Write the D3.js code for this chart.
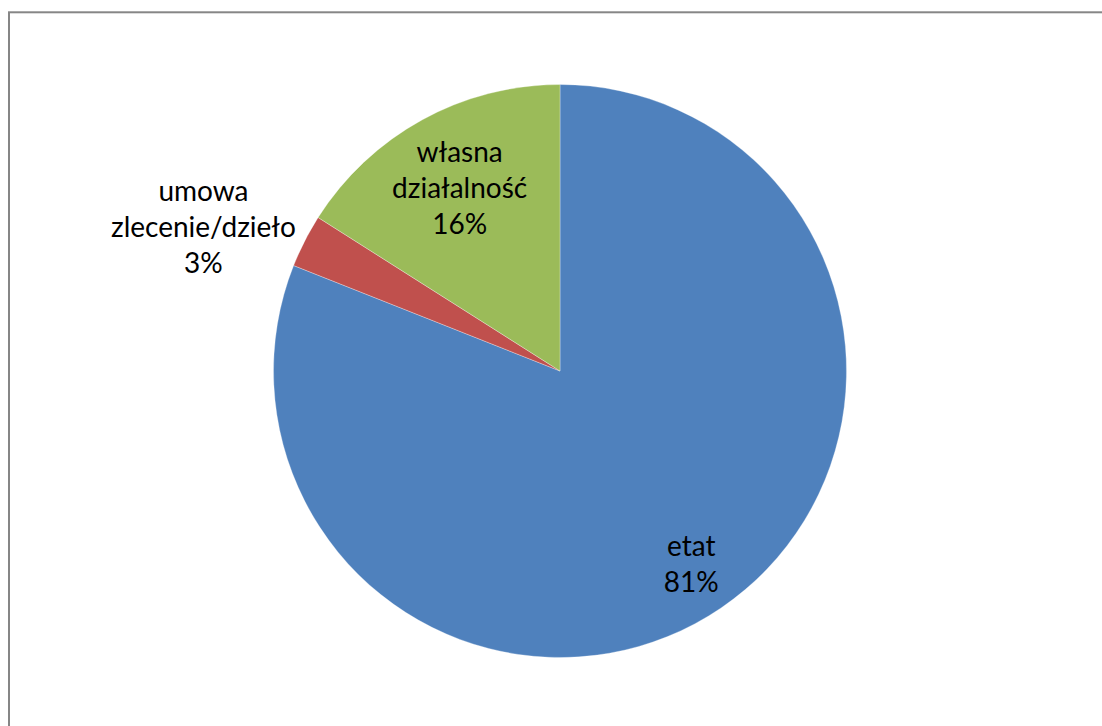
<!DOCTYPE html>
<html>
<head>
<meta charset="utf-8">
<script src="https://cdn.jsdelivr.net/npm/d3@7"></script>
<style>
    body { margin: 0; background: #fff; }
    svg text { font-family: Lato, 'Open Sans', sans-serif; font-size: 28px; fill: #000; }
</style>
</head>
<body>
<div class="chart"></div>
<script>
(function () {
    'use strict';

    const categories = ['etat', 'umowa zlecenie/dzieło', 'własna działalność'];
    const labelLines = [['etat'], ['umowa', 'zlecenie/dzieło'], ['własna', 'działalność']];
    const shares = [81, 3, 16];
    const colors = ['#4f81bd', '#c0504d', '#9bbb59'];

    const width = 1102;
    const height = 726;
    const center = { x: 560, y: 371 };
    const radius = 286.5;
    const lineHeight = 36;

    // label placement: inside labels by radius factor, small slices go outside
    const labelRadius = [0.815, null, 0.727];

    const svg = d3.select('.chart').append('svg')
        .attr('width', width)
        .attr('height', height);

    // chart frame (right and bottom edges fall outside the picture)
    svg.append('rect')
        .attr('x', 9).attr('y', 12.3)
        .attr('width', width + 20).attr('height', height + 20)
        .attr('fill', 'none')
        .attr('stroke', '#868686')
        .attr('stroke-width', 2);

    const pie = d3.pie().sort(null).value(function (d) { return d; });
    const arcs = pie(shares);
    const arc = d3.arc().innerRadius(0).outerRadius(radius);

    const g = svg.append('g').attr('transform', 'translate(' + center.x + ',' + center.y + ')');

    g.selectAll('path').data(arcs).enter().append('path')
        .attr('d', arc)
        .attr('fill', function (d, i) { return colors[i]; })
        .attr('stroke', '#ffffff')
        .attr('stroke-opacity', 0.5)
        .attr('stroke-width', 0.6);

    const labels = g.selectAll('.label').data(arcs).enter().append('text')
        .attr('class', 'label')
        .attr('text-anchor', 'middle');

    labels.each(function (d, i) {
        const text = d3.select(this);
        const lines = labelLines[i].concat([shares[i] + '%']);
        lines.forEach(function (l) {
            text.append('tspan').text(l);
        });

        const mid = (d.startAngle + d.endAngle) / 2;
        let cx, cy;
        if (labelRadius[i] != null) {
            const r = labelRadius[i] * radius;
            cx = Math.sin(mid) * r;
            cy = -Math.cos(mid) * r;
        } else {
            const r = radius + 10;
            let maxW = 0;
            text.selectAll('tspan').each(function () {
                maxW = Math.max(maxW, this.getComputedTextLength());
            });
            cx = Math.sin(mid) * r - maxW / 2;
            cy = -Math.cos(mid) * r - 9;
        }

        const first = cy - (lines.length - 1) * lineHeight / 2 + 10;
        text.selectAll('tspan')
            .attr('x', cx)
            .attr('y', function (t, j) { return first + j * lineHeight; });
    });
}());
</script>
</body>
</html>
